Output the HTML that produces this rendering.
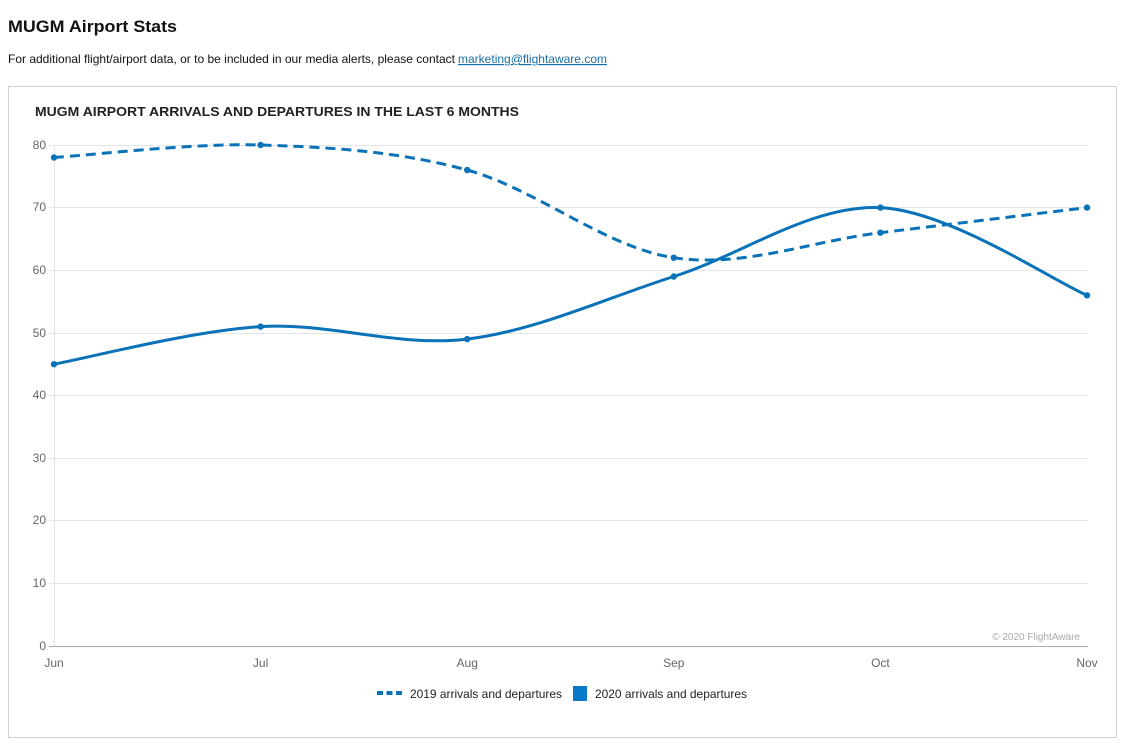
<!DOCTYPE html>
<html><head><meta charset="utf-8"><style>
html,body{margin:0;padding:0;background:#fff;}
svg{display:block;}
text{font-family:"Liberation Sans",Arial,sans-serif;}
</style></head><body>
<svg width="1131" height="751" viewBox="0 0 1131 751" xmlns="http://www.w3.org/2000/svg">
<rect x="0" y="0" width="1131" height="751" fill="#fff"/>
<text x="8" y="32" font-size="17" font-weight="bold" fill="#111" textLength="169" lengthAdjust="spacingAndGlyphs">MUGM Airport Stats</text>
<text x="8" y="63" font-size="12" fill="#111" textLength="447" lengthAdjust="spacingAndGlyphs">For additional flight/airport data, or to be included in our media alerts, please contact</text>
<text x="458" y="63" font-size="12" fill="#1a6fa8" textLength="149" lengthAdjust="spacingAndGlyphs" text-decoration="underline">marketing@flightaware.com</text>
<rect x="8.5" y="86.5" width="1108" height="651" fill="#fff" stroke="#d0d0d0" stroke-width="1"/>
<text x="35" y="116" font-size="13" font-weight="bold" fill="#222" textLength="484" lengthAdjust="spacingAndGlyphs">MUGM AIRPORT ARRIVALS AND DEPARTURES IN THE LAST 6 MONTHS</text>
<g stroke="#e4e4e4" stroke-width="1">
<line x1="49" y1="145.5" x2="1088" y2="145.5"/>
<line x1="49" y1="207.5" x2="1088" y2="207.5"/>
<line x1="49" y1="270.5" x2="1088" y2="270.5"/>
<line x1="49" y1="333.5" x2="1088" y2="333.5"/>
<line x1="49" y1="395.5" x2="1088" y2="395.5"/>
<line x1="49" y1="458.5" x2="1088" y2="458.5"/>
<line x1="49" y1="520.5" x2="1088" y2="520.5"/>
<line x1="49" y1="583.5" x2="1088" y2="583.5"/>
<line x1="54.5" y1="145" x2="54.5" y2="646"/>
</g>
<line x1="49" y1="646.5" x2="1088" y2="646.5" stroke="#aaa" stroke-width="1"/>
<g font-size="12" fill="#666" text-anchor="end">
<text x="46" y="149">80</text>
<text x="46" y="211">70</text>
<text x="46" y="274">60</text>
<text x="46" y="337">50</text>
<text x="46" y="399">40</text>
<text x="46" y="462">30</text>
<text x="46" y="524">20</text>
<text x="46" y="587">10</text>
<text x="46" y="650">0</text>
</g>
<g font-size="12" fill="#666" text-anchor="middle">
<text x="54" y="667">Jun</text>
<text x="260.6" y="667">Jul</text>
<text x="467.2" y="667">Aug</text>
<text x="673.8" y="667">Sep</text>
<text x="880.4" y="667">Oct</text>
<text x="1087" y="667">Nov</text>
</g>
<text x="1080" y="640" font-size="10" fill="#aaa" text-anchor="end">© 2020 FlightAware</text>
<path d="M54,157.5 C88.43,155.42 191.73,142.91 260.6,145 C329.47,147.09 398.33,151.27 467.2,170.05 C536.07,188.83 604.93,247.26 673.8,257.7 C742.67,268.14 811.53,241.05 880.4,232.7 C949.27,224.35 1052.57,211.78 1087,207.6" fill="none" stroke="#0a72b8" stroke-width="3" stroke-dasharray="10,6"/>
<path d="M54,364.2 C88.43,357.93 191.73,330.78 260.6,326.6 C329.47,322.42 398.33,347.45 467.2,339.1 C536.07,330.75 604.93,298.42 673.8,276.5 C742.67,254.58 811.53,204.47 880.4,207.6 C949.27,210.73 1052.57,280.68 1087,295.3" fill="none" stroke="#0a72b8" stroke-width="3"/>
<g fill="#0a72b8">
<circle cx="54" cy="157.5" r="3.2"/><circle cx="260.6" cy="145" r="3.2"/><circle cx="467.2" cy="170.05" r="3.2"/><circle cx="673.8" cy="257.7" r="3.2"/><circle cx="880.4" cy="232.7" r="3.2"/><circle cx="1087" cy="207.6" r="3.2"/>
<circle cx="54" cy="364.2" r="3.2"/><circle cx="260.6" cy="326.6" r="3.2"/><circle cx="467.2" cy="339.1" r="3.2"/><circle cx="673.8" cy="276.5" r="3.2"/><circle cx="880.4" cy="207.6" r="3.2"/><circle cx="1087" cy="295.3" r="3.2"/>
</g>
<g fill="#0a72b8">
<rect x="377" y="691" width="6" height="4"/><rect x="386.5" y="691" width="6" height="4"/><rect x="396" y="691" width="6" height="4"/>
<rect x="573" y="686" width="14" height="15" fill="#0a7ac8"/>
</g>
<text x="410" y="698" font-size="12" fill="#222" textLength="152" lengthAdjust="spacingAndGlyphs">2019 arrivals and departures</text>
<text x="595" y="698" font-size="12" fill="#222" textLength="152" lengthAdjust="spacingAndGlyphs">2020 arrivals and departures</text>
</svg>
</body></html>
